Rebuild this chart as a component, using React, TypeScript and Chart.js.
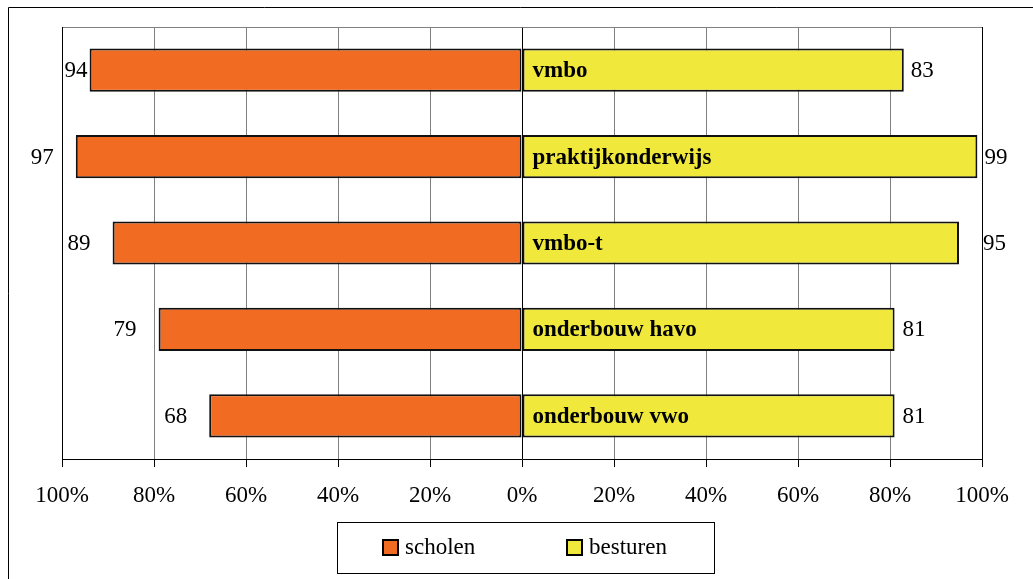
import React, { useEffect, useRef } from "react";
import { Chart, registerables } from "chart.js";

Chart.register(...registerables);

const categories = ["vmbo", "praktijkonderwijs", "vmbo-t", "onderbouw havo", "onderbouw vwo"];
const scholen = [94, 97, 89, 79, 68];
const besturen = [83, 99, 95, 81, 81];
const seriesNames = ["scholen", "besturen"];
const tickValues = [-100, -80, -60, -40, -20, 0, 20, 40, 60, 80, 100];

const ORANGE = "#F26B23";
const YELLOW = "#F0E93C";
const FONT = "'Liberation Serif', 'Times New Roman', serif";
const leftGap = [2, 22, 22, 22, 22];
const rightGap = [7, 7, 24, 8, 8];

const decorPlugin = {
  id: "decor",
  beforeDraw(chart: any) {
    const ctx = chart.ctx;
    ctx.save();
    ctx.fillStyle = "#fff";
    ctx.fillRect(0, 0, chart.width, chart.height);
    ctx.strokeStyle = "#000";
    ctx.lineWidth = 1;
    ctx.beginPath();
    ctx.moveTo(8.5, chart.height);
    ctx.lineTo(8.5, 7.5);
    ctx.lineTo(chart.width, 7.5);
    ctx.stroke();
    ctx.restore();
  },
  afterDraw(chart: any) {
    const ctx = chart.ctx;
    const a = chart.chartArea;
    ctx.save();
    ctx.lineWidth = 1;
    ctx.strokeStyle = "#808080";
    ctx.beginPath();
    ctx.moveTo(Math.round(a.left) + 0.5, Math.round(a.top) + 0.5);
    ctx.lineTo(Math.round(a.right) + 0.5, Math.round(a.top) + 0.5);
    ctx.stroke();
    ctx.strokeStyle = "#000";
    ctx.beginPath();
    ctx.moveTo(Math.round(a.left) + 0.5, Math.round(a.top));
    ctx.lineTo(Math.round(a.left) + 0.5, Math.round(a.bottom) + 8);
    ctx.moveTo(Math.round(a.right) + 0.5, Math.round(a.top));
    ctx.lineTo(Math.round(a.right) + 0.5, Math.round(a.bottom) + 8);
    ctx.stroke();

    // custom legend
    const bx = 337, by = 522, bw = 377, bh = 51;
    ctx.fillStyle = "#fff";
    ctx.fillRect(bx, by, bw, bh);
    ctx.strokeStyle = "#000";
    ctx.strokeRect(bx + 0.5, by + 0.5, bw, bh);
    const items = [
      { x: 383, color: ORANGE, label: seriesNames[0] },
      { x: 567, color: YELLOW, label: seriesNames[1] },
    ];
    ctx.font = `23px ${FONT}`;
    ctx.textBaseline = "middle";
    ctx.textAlign = "left";
    items.forEach((it) => {
      ctx.fillStyle = it.color;
      ctx.fillRect(it.x, 540, 15, 15);
      ctx.lineWidth = 2;
      ctx.strokeStyle = "#000";
      ctx.strokeRect(it.x, 540, 15, 15);
      ctx.fillStyle = "#000";
      ctx.fillText(it.label, it.x + 22, 548);
    });
    ctx.restore();
  },
  afterDatasetsDraw(chart: any) {
    const ctx = chart.ctx;
    ctx.save();
    ctx.fillStyle = "#000";
    ctx.textBaseline = "middle";
    const m0 = chart.getDatasetMeta(0);
    const m1 = chart.getDatasetMeta(1);
    m0.data.forEach((bar: any, i: number) => {
      ctx.font = `23px ${FONT}`;
      ctx.textAlign = "right";
      ctx.fillText(String(scholen[i]), bar.x - leftGap[i], bar.y + 1);
    });
    m1.data.forEach((bar: any, i: number) => {
      ctx.font = `23px ${FONT}`;
      ctx.textAlign = "left";
      ctx.fillText(String(besturen[i]), bar.x + rightGap[i], bar.y + 1);
      ctx.font = `bold 23px ${FONT}`;
      ctx.fillText(categories[i], bar.base + 10, bar.y + 1);
    });
    ctx.restore();
  },
};

export default function App() {
  const ref = useRef<HTMLCanvasElement | null>(null);
  useEffect(() => {
    if (!ref.current) return;
    const chart = new Chart(ref.current, {
      type: "bar",
      data: {
        labels: categories,
        datasets: [
          {
            label: seriesNames[0],
            data: scholen.map((v) => -v),
            backgroundColor: ORANGE,
            borderColor: "#111",
            borderWidth: 2,
            borderSkipped: false,
            barPercentage: 0.5,
            categoryPercentage: 1,
          },
          {
            label: seriesNames[1],
            data: besturen,
            backgroundColor: YELLOW,
            borderColor: "#111",
            borderWidth: 2,
            borderSkipped: false,
            barPercentage: 0.5,
            categoryPercentage: 1,
          },
        ],
      },
      options: {
        indexAxis: "y",
        responsive: false,
        animation: false,
        layout: { padding: { left: 62, right: 51, top: 27, bottom: 0 } },
        plugins: { legend: { display: false }, tooltip: { enabled: false } },
        scales: {
          x: {
            stacked: true,
            min: -100,
            max: 100,
            afterBuildTicks: (scale: any) => {
              scale.ticks = tickValues.map((v) => ({ value: v }));
            },
            afterFit: (scale: any) => {
              scale.height = 120;
            },
            grid: {
              color: (c: any) => (c.tick && c.tick.value === 0 ? "#000" : "#808080"),
              lineWidth: 1,
              tickColor: "#000",
              tickLength: 8,
            },
            border: { display: true, color: "#000", width: 1 },
            ticks: {
              color: "#000",
              padding: 15,
              maxRotation: 0,
              autoSkip: false,
              font: { family: FONT, size: 23 },
              callback: (v: any) => `${Math.abs(Number(v))}%`,
            },
          },
          y: {
            stacked: true,
            display: false,
          },
        },
      },
      plugins: [decorPlugin],
    });
    return () => chart.destroy();
  }, []);
  return (
    <div style={{ position: "fixed", left: 0, top: 0, width: 1033, height: 579 }}>
      <canvas ref={ref} width={1033} height={579} style={{ display: "block" }} />
    </div>
  );
}
